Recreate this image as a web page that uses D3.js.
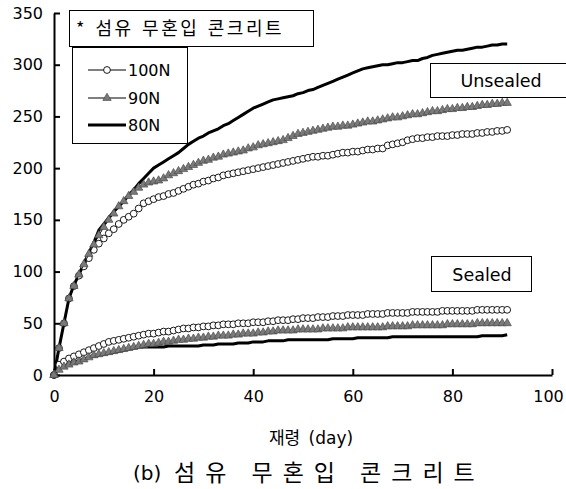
<!DOCTYPE html>
<html>
<head>
<meta charset="utf-8">
<script src="https://cdn.jsdelivr.net/npm/d3@7"></script>
<style>
  body { margin: 0; background: #fff; }
  svg text { font-family: "DejaVu Sans", "Noto Sans CJK KR", sans-serif; fill: #000; }
  .kr { font-family: "Noto Sans CJK KR", sans-serif; }
</style>
</head>
<body>
<div class="container"></div>
<script>
// measurement days 0..91
const days = d3.range(0, 92);

// unsealed
const unsealed100 = [0, 26, 50, 74, 86, 96, 105, 113, 121, 127, 132, 137, 141, 146, 150, 153, 156, 161, 166, 168,
  170, 172, 173, 175, 176, 178, 180, 182, 184, 185, 187, 188, 190, 191, 193, 194, 195, 196, 197, 198,
  199, 200, 201, 202, 203, 204, 205, 206, 207, 208, 209, 210, 211, 211, 212, 212, 213, 214, 215, 215,
  216, 216, 217, 218, 218, 219, 219, 222, 223, 224, 225, 227, 228, 229, 229, 230, 230, 231, 231, 231,
  232, 232, 233, 233, 233, 234, 234, 235, 235, 236, 236, 237];
const unsealed90 = [0, 26, 50, 74, 86, 97, 107, 117, 126, 135, 143, 150, 156, 163, 168, 173, 177, 181, 184, 186,
  187, 188, 190, 193, 195, 197, 199, 201, 203, 205, 207, 208, 210, 211, 213, 214, 215, 216, 217, 219,
  220, 222, 223, 224, 225, 226, 227, 229, 231, 233, 234, 235, 236, 237, 238, 239, 240, 240, 241, 241,
  242, 243, 244, 245, 245, 246, 247, 248, 249, 249, 250, 251, 252, 252, 253, 254, 255, 255, 256, 257,
  257, 258, 258, 259, 259, 260, 261, 261, 262, 262, 263, 263];
const unsealed80 = [0, 26, 50, 74, 87, 97, 108, 118, 128, 140, 146, 152, 158, 163, 168, 174, 179, 185, 190, 195,
  200, 203, 206, 209, 212, 215, 219, 223, 226, 229, 231, 234, 236, 238, 241, 243, 246, 249, 252, 255,
  258, 260, 262, 264, 266, 267, 268, 269, 270, 272, 273, 275, 276, 278, 280, 282, 284, 286, 288, 290,
  292, 294, 296, 297, 298, 299, 300, 300, 301, 302, 302, 303, 304, 304, 306, 307, 309, 310, 311, 312,
  313, 314, 314, 315, 316, 317, 317, 318, 319, 319, 320, 320];

// sealed
const sealed100 = [0, 10, 13, 16, 18, 20, 22, 24, 26, 28, 30, 32, 33, 34, 35, 36, 37, 38, 39, 40,
  40, 41, 42, 42, 43, 44, 45, 45, 46, 46, 47, 47, 48, 48, 49, 49, 49, 50, 50, 50,
  51, 51, 51, 52, 52, 53, 53, 53, 54, 54, 55, 55, 55, 56, 56, 56, 57, 57, 57, 58,
  58, 58, 58, 59, 59, 59, 59, 60, 60, 60, 60, 60, 61, 61, 61, 61, 61, 61, 62, 62,
  62, 62, 62, 62, 62, 63, 63, 63, 63, 63, 63, 63];
const sealed90 = [0, 5, 8, 10, 12, 13, 15, 17, 19, 20, 21, 22, 23, 24, 25, 26, 27, 28, 29, 30,
  30, 31, 32, 32, 33, 34, 34, 35, 35, 36, 36, 37, 37, 38, 38, 38, 39, 39, 40, 40,
  40, 41, 41, 42, 42, 43, 43, 43, 43, 44, 44, 44, 44, 44, 45, 45, 45, 45, 45, 46,
  46, 46, 46, 46, 46, 46, 46, 47, 47, 47, 47, 47, 48, 48, 48, 48, 48, 48, 48, 49,
  49, 49, 49, 49, 49, 50, 50, 50, 50, 50, 50, 50];
const sealed80 = [0, 7, 9, 11, 12, 14, 15, 17, 18, 19, 20, 21, 22, 23, 24, 25, 26, 27, 27, 27,
  27, 27, 27, 28, 28, 28, 28, 28, 28, 28, 29, 29, 29, 30, 30, 30, 30, 31, 31, 31,
  32, 32, 32, 33, 33, 33, 33, 34, 34, 34, 34, 34, 34, 34, 34, 34, 35, 35, 35, 35,
  35, 36, 36, 36, 36, 36, 36, 36, 37, 37, 37, 37, 37, 37, 37, 37, 37, 37, 37, 37,
  37, 37, 37, 37, 37, 37, 38, 38, 38, 38, 38, 39];

const xTicks = [0, 20, 40, 60, 80, 100];
const yTicks = [0, 50, 100, 150, 200, 250, 300, 350];
const legendNames = ["100N", "90N", "80N"];
const titleText = "* 섬유 무혼입 콘크리트";
const xLabel = "재령 (day)";
const captionTag = "(b)";
const captionText = "섬유 무혼입 콘크리트";

const W = 566, H = 489;
const margin = { top: 13, right: 14, bottom: 114, left: 54 };
const width = W - margin.left - margin.right,
    height = H - margin.top - margin.bottom;

const svg = d3.select(".container")
    .append("svg")
    .attr("width", W)
    .attr("height", H);

const g = svg.append("g")
    .attr("transform", `translate(${margin.left}, ${margin.top})`);

// SCALES
const x = d3.scaleLinear().domain([0, 100]).range([0, width]);
const y = d3.scaleLinear().domain([0, 350]).range([height, 0]);

// AXES - ticks pointing inward
const xAxis = d3.axisBottom(x).tickValues(xTicks).tickSizeInner(-6).tickSizeOuter(0).tickPadding(16);
const yAxis = d3.axisLeft(y).tickValues(yTicks).tickSizeInner(-6).tickSizeOuter(0).tickPadding(11);

const gx = g.append("g")
    .attr("transform", `translate(0, ${height})`)
    .call(xAxis);
const gy = g.append("g").call(yAxis);

[gx, gy].forEach(a => {
    a.selectAll("path.domain").attr("stroke", "#000").attr("stroke-width", 2);
    a.selectAll(".tick line").attr("stroke", "#000").attr("stroke-width", 2);
    a.selectAll(".tick text").attr("font-size", 16).attr("font-family", null);
});
// keep the last x label inside the frame
gx.selectAll(".tick text").filter(d => d === 100).attr("dx", -4);

const line = d3.line().x((d, i) => x(days[i])).y(d => y(d));

// 80N - thick lines
[unsealed80, sealed80].forEach(s => {
    g.append("path").datum(s)
        .attr("d", line)
        .attr("fill", "none")
        .attr("stroke", "#000")
        .attr("stroke-width", 3)
        .attr("stroke-linejoin", "round");
});

// 100N - open circles
[unsealed100, sealed100].forEach(s => {
    g.append("path").datum(s)
        .attr("d", line).attr("fill", "none").attr("stroke", "#000").attr("stroke-width", 1);
    g.append("g").selectAll("circle")
        .data(s)
        .enter()
        .append("circle")
        .attr("cx", (d, i) => x(days[i]))
        .attr("cy", d => y(d))
        .attr("r", 3.4)
        .attr("fill", "#fff")
        .attr("stroke", "#000")
        .attr("stroke-width", 0.9);
});

// 90N - grey triangles
const tri = d3.symbol().type(d3.symbolTriangle).size(30);
[unsealed90, sealed90].forEach(s => {
    g.append("path").datum(s)
        .attr("d", line).attr("fill", "none").attr("stroke", "#000").attr("stroke-width", 1);
    g.append("g").selectAll("path")
        .data(s)
        .enter()
        .append("path")
        .attr("d", tri)
        .attr("transform", (d, i) => `translate(${x(days[i])}, ${y(d)})`)
        .attr("fill", "#7a7a7a")
        .attr("stroke", "#4a4a4a")
        .attr("stroke-width", 0.7);
});

// TITLE BOX
svg.append("rect")
    .attr("x", 69.5).attr("y", 10.5).attr("width", 244).attr("height", 36)
    .attr("fill", "#fff").attr("stroke", "#000");
svg.append("text")
    .attr("class", "kr")
    .attr("x", 76).attr("y", 35)
    .attr("font-size", 18)
    .attr("letter-spacing", 2.5)
    .attr("word-spacing", 2)
    .text(titleText);

// LEGEND
const legend = svg.append("g");
legend.append("rect")
    .attr("x", 72.5).attr("y", 47.5).attr("width", 115).attr("height", 96)
    .attr("fill", "#fff").attr("stroke", "#000");
const legendY = [70, 98, 125];
legendNames.forEach((name, i) => {
    const ly = legendY[i];
    legend.append("line")
        .attr("x1", 88).attr("x2", 126).attr("y1", ly).attr("y2", ly)
        .attr("stroke", "#000").attr("stroke-width", i === 2 ? 3 : 1);
    if (i === 0) {
        legend.append("circle").attr("cx", 107).attr("cy", ly).attr("r", 3.4)
            .attr("fill", "#fff").attr("stroke", "#000").attr("stroke-width", 0.9);
    } else if (i === 1) {
        legend.append("path").attr("d", tri).attr("transform", `translate(107, ${ly})`)
            .attr("fill", "#7a7a7a").attr("stroke", "#4a4a4a").attr("stroke-width", 0.7);
    }
    legend.append("text")
        .attr("x", 128).attr("y", ly + 6)
        .attr("font-size", 16)
        .text(name);
});

// STATE LABELS
svg.append("rect")
    .attr("x", 430.5).attr("y", 63.5).attr("width", 140).attr("height", 34)
    .attr("fill", "#fff").attr("stroke", "#000");
svg.append("text")
    .attr("x", 501).attr("y", 87)
    .attr("text-anchor", "middle")
    .attr("font-size", 17.5)
    .text("Unsealed");

svg.append("rect")
    .attr("x", 431.5).attr("y", 256.5).attr("width", 100).attr("height", 35)
    .attr("fill", "#fff").attr("stroke", "#000");
svg.append("text")
    .attr("x", 482).attr("y", 281)
    .attr("text-anchor", "middle")
    .attr("font-size", 17.5)
    .text("Sealed");

// AXIS TITLE AND CAPTION
svg.append("text")
    .attr("x", 311).attr("y", 444)
    .attr("text-anchor", "middle")
    .attr("font-size", 17)
    .attr("word-spacing", 3)
    .text(xLabel);

svg.append("text")
    .attr("x", 133).attr("y", 480)
    .attr("font-size", 20)
    .text(captionTag);
svg.append("text")
    .attr("class", "kr")
    .attr("x", 174).attr("y", 481)
    .attr("font-size", 23)
    .attr("letter-spacing", 10)
    .text(captionText);
</script>
</body>
</html>
